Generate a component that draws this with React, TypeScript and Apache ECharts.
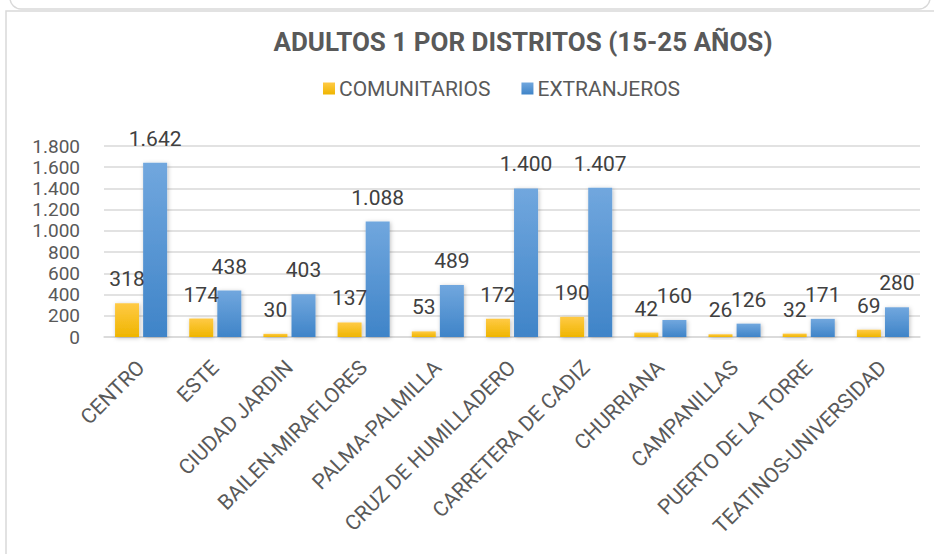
import React, { useEffect, useRef } from "react";
import * as echarts from "echarts";

const categories = [
  "CENTRO",
  "ESTE",
  "CIUDAD JARDIN",
  "BAILEN-MIRAFLORES",
  "PALMA-PALMILLA",
  "CRUZ DE HUMILLADERO",
  "CARRETERA DE CADIZ",
  "CHURRIANA",
  "CAMPANILLAS",
  "PUERTO DE LA TORRE",
  "TEATINOS-UNIVERSIDAD",
];
const comunitarios = [318, 174, 30, 137, 53, 172, 190, 42, 26, 32, 69];
const extranjeros = [1642, 438, 403, 1088, 489, 1400, 1407, 160, 126, 171, 280];
const titleText = "ADULTOS 1 POR DISTRITOS (15-25 AÑOS)";
const seriesNames = ["COMUNITARIOS", "EXTRANJEROS"];

const FONT = "Roboto, 'Open Sans', sans-serif";

const fmt = (v: number) => String(v).replace(/\B(?=(\d{3})+(?!\d))/g, ".");

export default function App() {
  const ref = useRef<HTMLDivElement>(null);
  useEffect(() => {
    if (!ref.current) return;
    const chart = echarts.init(ref.current, null, { renderer: "svg" });
    const grad = (top: string, bottom: string) =>
      new echarts.graphic.LinearGradient(0, 0, 0, 1, [
        { offset: 0, color: top },
        { offset: 1, color: bottom },
      ]);
    const labelCfg = {
      show: true,
      position: "top",
      distance: 15,
      fontSize: 21,
      lineHeight: 18,
      fontFamily: FONT,
      color: "#404040",
      formatter: (p: any) => fmt(p.value),
    };
    chart.setOption({
      animation: false,
      backgroundColor: "#ffffff",
      graphic: [
        {
          type: "rect",
          z: -10,
          shape: { x: 10, y: -40, width: 920, height: 49, r: 11 },
          style: { fill: "#ffffff", stroke: "#d9d9d9", lineWidth: 1.5 },
        },
        {
          type: "rect",
          z: -10,
          shape: { x: 6, y: 11, width: 1000, height: 700 },
          style: { fill: "none", stroke: "#d9d9d9", lineWidth: 1.5 },
        },
      ],
      title: {
        text: titleText,
        left: 518,
        top: 24,
        textAlign: "center",
        textStyle: {
          fontFamily: FONT,
          fontSize: 26,
          fontWeight: "bold",
          color: "#595959",
        },
      },
      legend: {
        data: seriesNames,
        left: 318,
        top: 73,
        itemWidth: 12,
        itemHeight: 12,
        itemGap: 31,
        icon: "rect",
        textStyle: { fontFamily: FONT, fontSize: 21, color: "#595959", padding: [0, 0, 0, -1] },
      },
      grid: { left: 104, right: 14, top: 146, bottom: 217, containLabel: false },
      xAxis: {
        type: "category",
        data: categories,
        axisLine: { lineStyle: { color: "#d9d9d9", width: 1.5 } },
        axisTick: { show: false },
        axisLabel: {
          rotate: 45,
          interval: 0,
          margin: 27,
          fontFamily: FONT,
          fontSize: 21,
          lineHeight: 20,
          color: "#595959",
        },
      },
      yAxis: {
        type: "value",
        min: 0,
        max: 1800,
        interval: 200,
        axisLine: { show: false },
        axisTick: { show: false },
        splitLine: { lineStyle: { color: "#d9d9d9", width: 1.5 } },
        axisLabel: {
          margin: 24,
          fontFamily: FONT,
          fontSize: 19,
          lineHeight: 18,
          color: "#595959",
          formatter: (v: number) => fmt(v),
        },
      },
      series: [
        {
          name: seriesNames[0],
          type: "bar",
          data: comunitarios,
          barWidth: 24,
          barGap: "17%",
          itemStyle: {
            color: grad("#ffca45", "#efb500"),
            shadowColor: "rgba(0,0,0,0.25)",
            shadowBlur: 4,
            shadowOffsetX: 1,
            shadowOffsetY: 1,
          },
          label: labelCfg,
        },
        {
          name: seriesNames[1],
          type: "bar",
          data: extranjeros,
          barWidth: 24,
          barGap: "17%",
          itemStyle: {
            color: grad("#71a7de", "#3f84c8"),
            shadowColor: "rgba(0,0,0,0.25)",
            shadowBlur: 4,
            shadowOffsetX: 1,
            shadowOffsetY: 1,
          },
          label: labelCfg,
        },
      ],
    });
    return () => chart.dispose();
  }, []);
  return (
    <div
      ref={ref}
      style={{ position: "fixed", left: 0, top: 0, width: 934, height: 554 }}
    />
  );
}
